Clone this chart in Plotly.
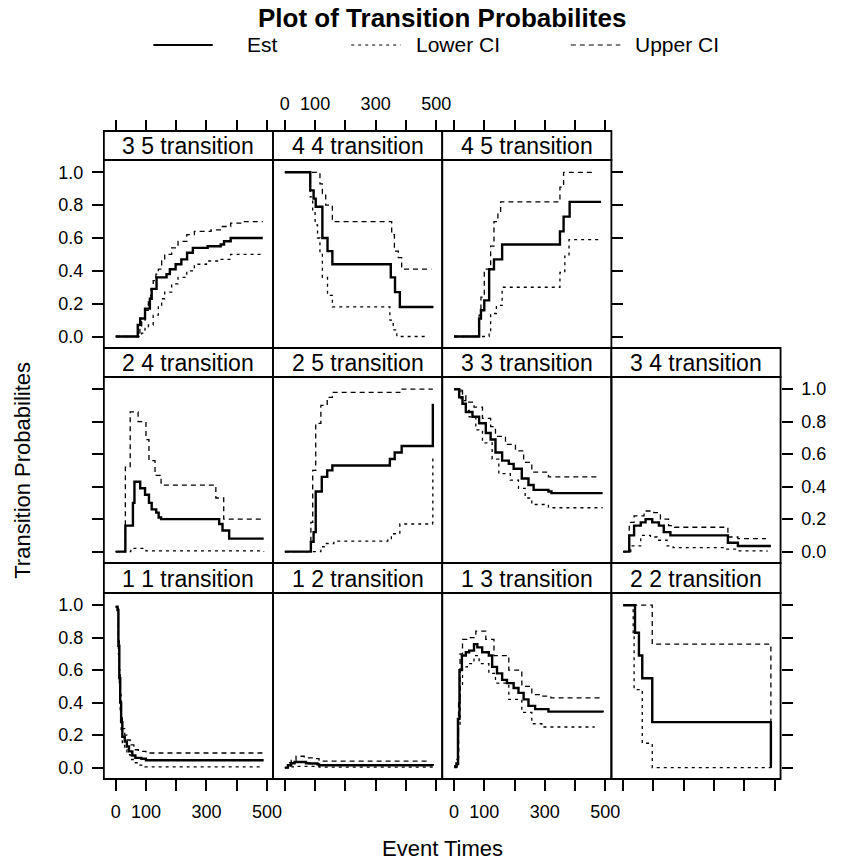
import plotly.graph_objects as go

# ---------------- data ----------------
panel_names = ["3 5", "4 4", "4 5", "2 4", "2 5", "3 3", "3 4", "1 1", "1 2", "1 3", "2 2"]
panel_rows = [0, 0, 0, 1, 1, 1, 1, 2, 2, 2, 2]
panel_cols = [0, 1, 2, 0, 1, 2, 3, 0, 1, 2, 3]

x_tick_vals = [0, 100, 200, 300, 400, 500]
x_tick_text = ["0", "100", "", "300", "", "500"]
y_tick_vals = [0.0, 0.2, 0.4, 0.6, 0.8, 1.0]
y_tick_text = ["0.0", "0.2", "0.4", "0.6", "0.8", "1.0"]

# 3 5 transition
est_t_35 = [0, 73, 81, 97, 113, 119, 135, 168, 179, 198, 217, 236, 255, 304, 347, 358, 380, 486]
est_35 = [0, 0.07, 0.11, 0.17, 0.23, 0.29, 0.36, 0.38, 0.41, 0.44, 0.47, 0.51, 0.54, 0.55, 0.56, 0.58, 0.60, 0.60]
lo_t_35 = [0, 86, 97, 108, 124, 141, 152, 162, 185, 206, 235, 260, 300, 337, 380, 486]
lo_35 = [0, 0.02, 0.05, 0.07, 0.13, 0.19, 0.23, 0.27, 0.32, 0.36, 0.40, 0.44, 0.46, 0.47, 0.50, 0.50]
up_t_35 = [0, 80, 86, 97, 108, 116, 124, 133, 141, 152, 162, 185, 206, 235, 260, 315, 350, 380, 420, 486]
up_35 = [0, 0.05, 0.09, 0.16, 0.23, 0.29, 0.34, 0.38, 0.41, 0.46, 0.50, 0.54, 0.58, 0.62, 0.64, 0.65, 0.67, 0.69, 0.70, 0.70]

# 4 4 transition
est_t_44 = [0, 84, 95, 102, 124, 141, 157, 350, 364, 380, 491]
est_44 = [1.0, 0.89, 0.84, 0.79, 0.60, 0.52, 0.44, 0.36, 0.27, 0.18, 0.18]
lo_t_44 = [0, 84, 92, 100, 108, 116, 124, 141, 157, 347, 358, 370, 470]
lo_44 = [1.0, 0.85, 0.76, 0.68, 0.60, 0.50, 0.36, 0.25, 0.18, 0.10, 0.04, 0.0, 0.0]
up_t_44 = [0, 116, 124, 135, 157, 353, 362, 375, 386, 484]
up_44 = [1.0, 0.93, 0.87, 0.80, 0.70, 0.62, 0.52, 0.48, 0.41, 0.41]

# 4 5 transition
est_t_45 = [0, 83, 89, 100, 116, 132, 159, 350, 362, 382, 486]
est_45 = [0, 0.11, 0.16, 0.22, 0.41, 0.47, 0.56, 0.64, 0.73, 0.82, 0.82]
lo_t_45 = [0, 116, 121, 140, 159, 350, 366, 380, 480]
lo_45 = [0, 0.02, 0.14, 0.19, 0.30, 0.39, 0.49, 0.59, 0.59]
up_t_45 = [0, 83, 89, 100, 121, 132, 145, 154, 350, 362, 467]
up_45 = [0, 0.13, 0.24, 0.41, 0.55, 0.70, 0.75, 0.82, 0.91, 1.0, 1.0]

# 2 4 transition
est_t_24 = [0, 32, 57, 62, 81, 97, 110, 119, 134, 142, 150, 342, 353, 375, 489]
est_24 = [0, 0.16, 0.30, 0.43, 0.39, 0.35, 0.30, 0.26, 0.24, 0.21, 0.20, 0.17, 0.13, 0.08, 0.08]
lo_t_24 = [0, 50, 100, 489]
lo_24 = [0, 0.02, 0.005, 0.0]
up_t_24 = [0, 32, 48, 74, 100, 110, 130, 150, 331, 357, 489]
up_24 = [0, 0.52, 0.86, 0.80, 0.69, 0.56, 0.47, 0.41, 0.33, 0.20, 0.20]

# 2 5 transition
est_t_25 = [0, 86, 95, 102, 122, 140, 157, 347, 363, 386, 488, 489]
est_25 = [0, 0.06, 0.12, 0.37, 0.46, 0.50, 0.53, 0.57, 0.61, 0.65, 0.65, 0.91]
lo_t_25 = [0, 119, 130, 162, 340, 352, 380, 488, 489]
lo_25 = [0, 0.03, 0.05, 0.065, 0.07, 0.11, 0.17, 0.18, 0.59]
up_t_25 = [0, 86, 92, 102, 119, 140, 157, 380, 489]
up_25 = [0, 0.18, 0.50, 0.79, 0.90, 0.95, 0.98, 1.0, 1.0]

# 3 3 transition
est_t_33 = [0, 17, 28, 39, 61, 83, 105, 121, 137, 159, 181, 197, 224, 246, 263, 312, 322, 491]
est_33 = [1.0, 0.95, 0.91, 0.86, 0.83, 0.79, 0.73, 0.69, 0.61, 0.56, 0.54, 0.51, 0.45, 0.41, 0.38, 0.37, 0.36, 0.36]
lo_t_33 = [0, 23, 39, 50, 72, 94, 126, 148, 186, 213, 235, 257, 312, 491]
lo_33 = [1.0, 0.93, 0.87, 0.83, 0.75, 0.67, 0.57, 0.48, 0.44, 0.39, 0.33, 0.29, 0.27, 0.27]
up_t_33 = [0, 28, 39, 66, 94, 121, 137, 170, 203, 230, 257, 312, 475]
up_33 = [1.0, 0.96, 0.92, 0.89, 0.82, 0.77, 0.71, 0.66, 0.62, 0.55, 0.49, 0.46, 0.46]

# 3 4 transition
est_t_34 = [0, 20, 36, 58, 74, 96, 118, 134, 156, 346, 379, 488]
est_34 = [0, 0.10, 0.16, 0.18, 0.20, 0.18, 0.16, 0.12, 0.10, 0.055, 0.035, 0.035]
lo_t_34 = [0, 25, 58, 90, 112, 145, 165, 330, 379, 475]
lo_34 = [0, 0.035, 0.10, 0.09, 0.07, 0.035, 0.025, 0.015, 0.005, 0.0]
up_t_34 = [0, 20, 36, 69, 101, 123, 150, 170, 346, 379, 472]
up_34 = [0, 0.18, 0.22, 0.25, 0.24, 0.20, 0.16, 0.15, 0.09, 0.08, 0.08]

# 1 1 transition
est_t_11 = [0, 6, 9, 12, 15, 18, 22, 30, 37, 44, 55, 65, 85, 100, 489]
est_11 = [0.99, 0.97, 0.75, 0.55, 0.40, 0.28, 0.19, 0.16, 0.13, 0.10, 0.075, 0.06, 0.055, 0.045, 0.045]
lo_t_11 = [0, 6, 9, 12, 15, 18, 22, 30, 37, 48, 58, 75, 97, 489]
lo_11 = [0.99, 0.96, 0.70, 0.50, 0.35, 0.22, 0.15, 0.11, 0.08, 0.05, 0.03, 0.015, 0.005, 0.005]
up_t_11 = [0, 6, 9, 12, 15, 18, 22, 30, 37, 48, 60, 75, 100, 489]
up_11 = [0.99, 0.98, 0.78, 0.60, 0.45, 0.33, 0.24, 0.20, 0.17, 0.14, 0.11, 0.10, 0.09, 0.09]

# 1 2 transition
est_t_12 = [0, 10, 21, 32, 70, 81, 108, 113, 489]
est_12 = [0, 0.015, 0.027, 0.035, 0.027, 0.025, 0.02, 0.015, 0.012]
lo_t_12 = [0, 21, 37, 113, 489]
lo_12 = [0, 0.005, 0.008, 0.003, 0.003]
up_t_12 = [0, 10, 21, 37, 64, 97, 113, 478]
up_12 = [0, 0.03, 0.045, 0.07, 0.06, 0.055, 0.04, 0.04]

# 1 3 transition
est_t_13 = [0, 8, 13, 18, 26, 39, 50, 66, 77, 93, 115, 126, 142, 159, 175, 197, 213, 230, 246, 268, 312, 491]
est_13 = [0.005, 0.025, 0.30, 0.60, 0.69, 0.71, 0.72, 0.76, 0.74, 0.71, 0.69, 0.62, 0.58, 0.54, 0.52, 0.49, 0.46, 0.42, 0.38, 0.36, 0.345, 0.34]
lo_t_13 = [0, 10, 15, 20, 28, 44, 66, 83, 115, 137, 181, 224, 257, 290, 465]
lo_13 = [0.0, 0.01, 0.25, 0.50, 0.62, 0.64, 0.69, 0.64, 0.58, 0.52, 0.42, 0.34, 0.27, 0.25, 0.25]
up_t_13 = [0, 10, 15, 20, 28, 44, 72, 105, 132, 181, 224, 257, 290, 320, 491]
up_13 = [0.01, 0.05, 0.40, 0.70, 0.79, 0.80, 0.84, 0.79, 0.69, 0.60, 0.50, 0.45, 0.44, 0.43, 0.43]

# 2 2 transition
est_t_22 = [0, 39, 52, 63, 96, 487, 488]
est_22 = [1.0, 0.83, 0.69, 0.55, 0.28, 0.28, 0.0]
lo_t_22 = [0, 33, 36, 63, 96, 488]
lo_22 = [1.0, 0.81, 0.48, 0.15, 0.0, 0.0]
up_t_22 = [0, 96, 487, 488]
up_22 = [1.0, 0.76, 0.76, 0.0]

panel_data = {
    "3 5": (est_t_35, est_35, lo_t_35, lo_35, up_t_35, up_35),
    "4 4": (est_t_44, est_44, lo_t_44, lo_44, up_t_44, up_44),
    "4 5": (est_t_45, est_45, lo_t_45, lo_45, up_t_45, up_45),
    "2 4": (est_t_24, est_24, lo_t_24, lo_24, up_t_24, up_24),
    "2 5": (est_t_25, est_25, lo_t_25, lo_25, up_t_25, up_25),
    "3 3": (est_t_33, est_33, lo_t_33, lo_33, up_t_33, up_33),
    "3 4": (est_t_34, est_34, lo_t_34, lo_34, up_t_34, up_34),
    "1 1": (est_t_11, est_11, lo_t_11, lo_11, up_t_11, up_11),
    "1 2": (est_t_12, est_12, lo_t_12, lo_12, up_t_12, up_12),
    "1 3": (est_t_13, est_13, lo_t_13, lo_13, up_t_13, up_13),
    "2 2": (est_t_22, est_22, lo_t_22, lo_22, up_t_22, up_22),
}

# ---------------- layout geometry (pixels) ----------------
W, H = 842, 860
FONT = "Liberation Sans, Arial, Helvetica, sans-serif"
col_left = [105, 276, 447, 618]
col_w = 171
strip_top = [131, 348, 563]
strip_bot = [160, 377, 593]
panel_bot = [348, 563, 779]
x_range = [-39, 520]
y_range = [-0.07, 1.075]

LOWER_DASH = "3px,4px"
UPPER_DASH = "5px,4px"


def fx(px):
    return px / W


def fy(py):
    return 1 - py / H


fig = go.Figure()
shapes = []
annotations = []
layout_axes = {}

for k, name in enumerate(panel_names, start=1):
    r, c = panel_rows[k - 1], panel_cols[k - 1]
    xs = "" if k == 1 else str(k)
    et, ev, lt, lv, ut, uv = panel_data[name]
    common = dict(xaxis="x" + xs, yaxis="y" + xs, mode="lines", line_shape="hv",
                  showlegend=False, hoverinfo="skip")
    fig.add_trace(go.Scatter(x=lt, y=lv, line=dict(color="black", width=1.3, dash=LOWER_DASH), name="Lower CI", **common))
    fig.add_trace(go.Scatter(x=ut, y=uv, line=dict(color="black", width=1.3, dash=UPPER_DASH), name="Upper CI", **common))
    fig.add_trace(go.Scatter(x=et, y=ev, line=dict(color="black", width=2.4), name="Est", **common))

    l = col_left[c]
    xa = dict(domain=[fx(l), fx(l + col_w)], range=x_range, anchor="y" + xs,
              showgrid=False, zeroline=False, showline=False, ticks="", showticklabels=False,
              fixedrange=True)
    ya = dict(domain=[fy(panel_bot[r]), fy(strip_bot[r])], range=y_range, anchor="x" + xs,
              showgrid=False, zeroline=False, showline=False, ticks="", showticklabels=False,
              fixedrange=True)
    tick_style = dict(ticks="outside", ticklen=11, tickwidth=1.6, tickcolor="black",
                      tickfont=dict(family=FONT, size=18, color="black"))
    # x ticks: bottom on last row, top (above strip) on first row
    if r == 2:
        xa.update(tick_style, side="bottom", tickvals=x_tick_vals,
                  ticktext=x_tick_text if c in (0, 2) else [""] * len(x_tick_vals),
                  showticklabels=True, ticklabelstandoff=5)
    elif r == 0:
        xa.update(tick_style, side="top", anchor="free", position=fy(strip_top[0]),
                  tickvals=x_tick_vals,
                  ticktext=x_tick_text if c == 1 else [""] * len(x_tick_vals),
                  showticklabels=True, ticklabelstandoff=3)
    # y ticks: left on first column, right on last column of each row
    last_col = 2 if r == 0 else 3
    if c == 0:
        ya.update(tick_style, side="left", tickvals=y_tick_vals,
                  ticktext=y_tick_text if r in (0, 2) else [""] * len(y_tick_vals),
                  showticklabels=True, ticklabelstandoff=5)
    elif c == last_col:
        ya.update(tick_style, side="right", tickvals=y_tick_vals,
                  ticktext=y_tick_text if r == 1 else [""] * len(y_tick_vals),
                  showticklabels=True, ticklabelstandoff=5)
    layout_axes["xaxis" + xs] = xa
    layout_axes["yaxis" + xs] = ya

    # panel frame and strip
    shapes.append(dict(type="rect", xref="paper", yref="paper",
                       x0=fx(l), x1=fx(l + col_w), y0=fy(panel_bot[r]), y1=fy(strip_bot[r]),
                       line=dict(color="black", width=1.8), fillcolor="rgba(0,0,0,0)", layer="above"))
    shapes.append(dict(type="rect", xref="paper", yref="paper",
                       x0=fx(l), x1=fx(l + col_w), y0=fy(strip_bot[r]), y1=fy(strip_top[r]),
                       line=dict(color="black", width=1.8), fillcolor="white", layer="above"))
    annotations.append(dict(text=name + " transition", xref="paper", yref="paper",
                            x=fx(l + col_w / 2), y=fy((strip_top[r] + strip_bot[r]) / 2 + 0.5),
                            xanchor="center", yanchor="middle", showarrow=False,
                            font=dict(family=FONT, size=23, color="black")))

# title, axis titles
annotations.append(dict(text="<b>Plot of Transition Probabilites</b>", xref="paper", yref="paper",
                        x=fx(447), y=fy(18), xanchor="center", yanchor="middle", showarrow=False,
                        font=dict(family=FONT, size=26, color="black")))
annotations.append(dict(text="Event Times", xref="paper", yref="paper",
                        x=fx(447), y=fy(848), xanchor="center", yanchor="middle", showarrow=False,
                        font=dict(family=FONT, size=22, color="black")))
annotations.append(dict(text="Transition Probabilites", xref="paper", yref="paper",
                        x=fx(22), y=fy(470), xanchor="center", yanchor="middle", showarrow=False,
                        textangle=-90, font=dict(family=FONT, size=22, color="black")))

# manual key
legend_items = [("Est", 155, 215, 248, "solid", 2.2),
                ("Lower CI", 355, 405, 418, LOWER_DASH, 1.2),
                ("Upper CI", 577, 627, 640, UPPER_DASH, 1.2)]
for label, lx0, lx1, tx, dash, wdt in legend_items:
    shapes.append(dict(type="line", xref="paper", yref="paper", x0=fx(lx0), x1=fx(lx1),
                       y0=fy(45), y1=fy(45), line=dict(color="black", width=wdt, dash=dash)))
    annotations.append(dict(text=label, xref="paper", yref="paper", x=fx(tx), y=fy(45),
                            xanchor="left", yanchor="middle", showarrow=False,
                            font=dict(family=FONT, size=21, color="black")))

fig.update_layout(width=W, height=H, margin=dict(l=0, r=0, t=0, b=0),
                  paper_bgcolor="white", plot_bgcolor="white",
                  shapes=shapes, annotations=annotations, **layout_axes)

fig.write_html("out.html")
